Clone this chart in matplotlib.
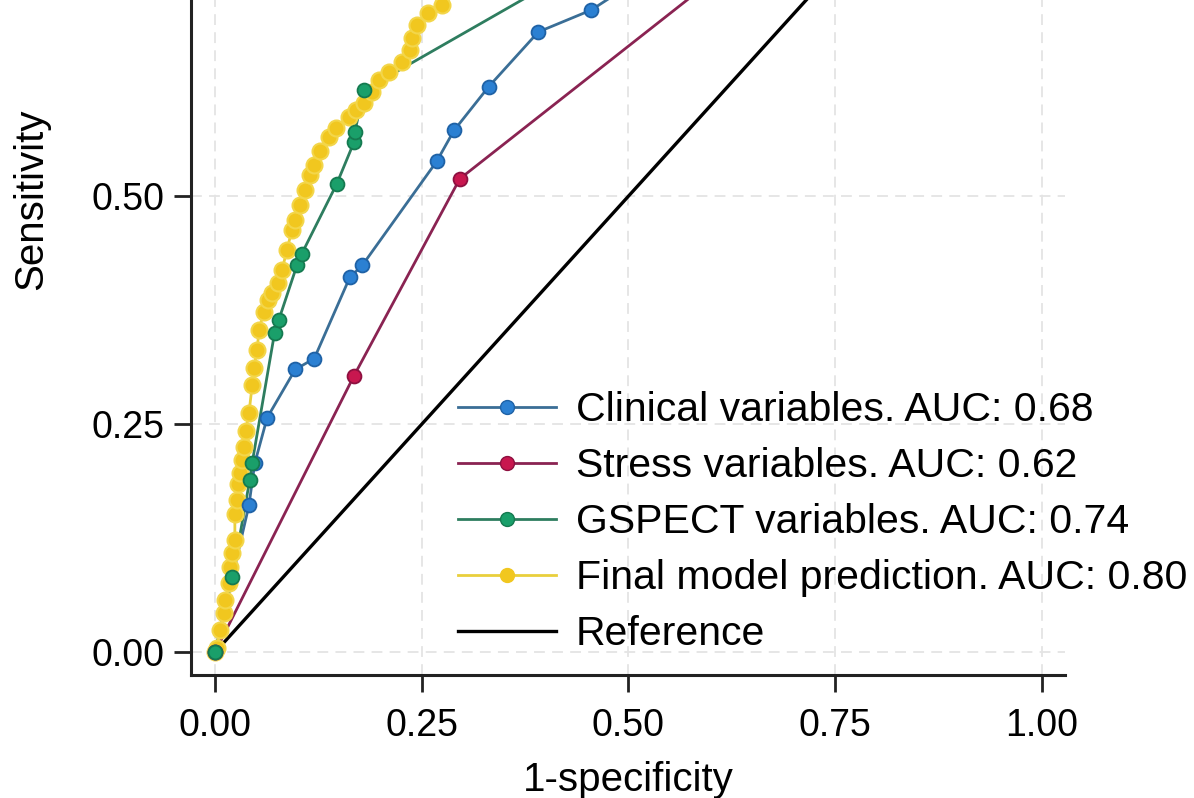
import matplotlib
matplotlib.use("Agg")
import matplotlib.pyplot as plt
from matplotlib.lines import Line2D

plt.rcParams['font.family'] = ['Liberation Sans', 'DejaVu Sans']

# ROC points (x = 1-specificity, y = sensitivity)
clin_x = [0.0, 0.041, 0.048, 0.063, 0.097, 0.120, 0.163, 0.178, 0.268, 0.289, 0.331, 0.391, 0.455, 0.55, 1.0]
clin_y = [0.0, 0.161, 0.207, 0.257, 0.310, 0.322, 0.411, 0.424, 0.538, 0.572, 0.620, 0.680, 0.704, 0.76, 1.0]

stress_x = [0.0, 0.168, 0.296, 0.62, 1.0]
stress_y = [0.0, 0.303, 0.519, 0.75, 1.0]

gspect_x = [0.0, 0.021, 0.042, 0.045, 0.072, 0.077, 0.099, 0.105, 0.147, 0.168, 0.169, 0.180, 0.40, 1.0]
gspect_y = [0.0, 0.082, 0.189, 0.208, 0.350, 0.364, 0.424, 0.437, 0.513, 0.559, 0.570, 0.616, 0.73, 1.0]

final_x = [0.0, 0.002, 0.006, 0.011, 0.012, 0.017, 0.018, 0.021, 0.024, 0.024, 0.027, 0.028,
           0.030, 0.033, 0.035, 0.037, 0.041, 0.045, 0.047, 0.051, 0.053, 0.059, 0.064, 0.069,
           0.076, 0.081, 0.087, 0.093, 0.097, 0.103, 0.109, 0.115, 0.120, 0.127, 0.138, 0.146,
           0.162, 0.171, 0.180, 0.190, 0.198, 0.210, 0.226, 0.236, 0.238, 0.244, 0.258, 0.274,
           0.30, 1.0]
final_y = [0.0, 0.005, 0.024, 0.043, 0.057, 0.076, 0.093, 0.109, 0.123, 0.152, 0.167, 0.185,
           0.196, 0.211, 0.225, 0.243, 0.262, 0.293, 0.312, 0.331, 0.353, 0.373, 0.386, 0.394,
           0.405, 0.419, 0.441, 0.463, 0.474, 0.490, 0.507, 0.523, 0.534, 0.550, 0.565, 0.575,
           0.587, 0.594, 0.602, 0.614, 0.627, 0.636, 0.647, 0.660, 0.673, 0.688, 0.701, 0.709,
           0.73, 1.0]

labels = ['Clinical variables. AUC: 0.68', 'Stress variables. AUC: 0.62',
          'GSPECT variables. AUC: 0.74', 'Final model prediction. AUC: 0.80', 'Reference']
xticks = [0.0, 0.25, 0.5, 0.75, 1.0]
yticks = [0.0, 0.25, 0.5]

fig = plt.figure(figsize=(11.94, 7.98), dpi=100)
ax = fig.add_axes([0.16, 0.154, 0.732, 0.846])

# series: (x, y, line colour, marker colour, marker edge)
series = [
    (clin_x, clin_y, '#3a6e96', '#2b80d2', '#1f62a6'),
    (stress_x, stress_y, '#8a2352', '#c8174f', '#8e1040'),
    (gspect_x, gspect_y, '#2e7d5f', '#1a9f6a', '#157a50'),
]

# final model drawn first so the other markers sit on top of it
ax.plot(final_x, final_y, color='#e9cf3c', lw=2, zorder=2)
ax.plot(final_x, final_y, ls='none', marker='o', ms=11.5, mfc='#f1c71f', mec='#f3d64a', mew=1.5, zorder=2.2)
for x, y, lc, mc, ec in series:
    ax.plot(x, y, color=lc, lw=2, zorder=1.8)
    ax.plot(x, y, ls='none', marker='o', ms=10, mfc=mc, mec=ec, mew=1.3, zorder=3)
ax.plot([0, 1], [0, 1], color='black', lw=2.4, zorder=1.5)

ax.set_xticks(xticks)
ax.set_yticks(yticks)
ax.set_xticklabels(['%.2f' % t for t in xticks])
ax.set_yticklabels(['%.2f' % t for t in yticks])
ax.set_xlim(-0.029, 1.028)
ax.set_ylim(-0.025, 0.715)
ax.tick_params(labelsize=27, length=12, width=2, color='#222222')
ax.tick_params(axis='x', pad=12)
ax.tick_params(axis='y', pad=7)
ax.grid(True, color='#e4e4e4', ls=(0, (6, 4)), lw=1.3)
ax.set_axisbelow(True)
for s in ['top', 'right']:
    ax.spines[s].set_visible(False)
for s in ['left', 'bottom']:
    ax.spines[s].set_linewidth(2.2)
    ax.spines[s].set_color('#222222')
ax.set_xlabel('1-specificity', fontsize=29)
ax.set_ylabel('Sensitivity', fontsize=29)
ax.xaxis.set_label_coords(0.5, -0.127)
ax.yaxis.set_label_coords(-0.161, 0.705)

handles = [Line2D([], [], color=s[2], lw=2, marker='o', ms=10, mfc=s[3], mec=s[4]) for s in series]
handles.append(Line2D([], [], color='#e9cf3c', lw=2, marker='o', ms=10, mfc='#f1c71f', mec='#f1c71f'))
handles.append(Line2D([], [], color='black', lw=2.4))
ax.legend(handles, labels, loc='upper left', bbox_to_anchor=(0.306, 0.421), frameon=False,
          fontsize=29.5, handlelength=2.37, handletextpad=0.49, labelspacing=0.44,
          borderpad=0, borderaxespad=0)

fig.savefig('out.png', dpi=100)
